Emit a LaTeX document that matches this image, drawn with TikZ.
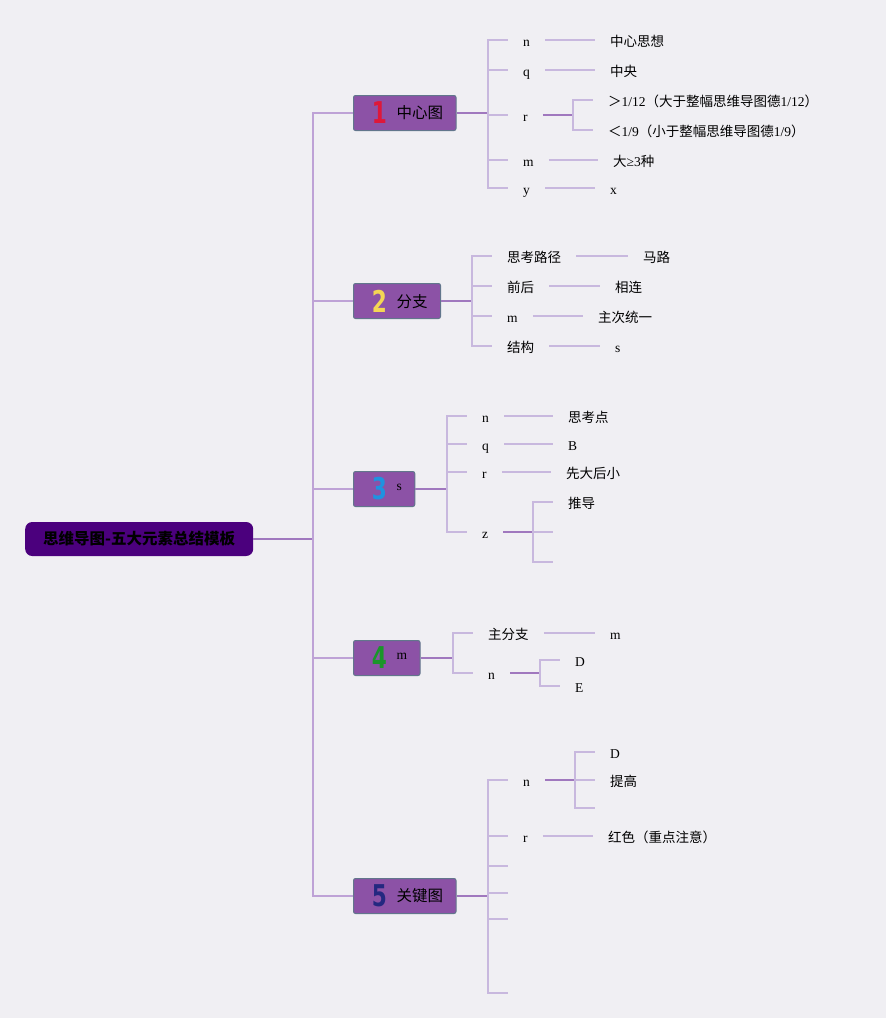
\documentclass[tikz,border=0pt]{standalone}
\usepackage{fontspec}
\usepackage{xcolor}
\usepackage{graphicx}
\usepackage{tikz}
\usetikzlibrary{positioning}
\setmainfont{Liberation Serif}
\newfontfamily\cjk{Noto Sans CJK SC}
\newfontfamily\digitfont{DejaVu Sans}
\definecolor{mmbg}{RGB}{240,239,243}
\definecolor{mmroot}{RGB}{75,0,125}
\definecolor{mmmain}{RGB}{140,82,166}
\definecolor{mmedge}{RGB}{98,118,140}
\definecolor{mmline}{RGB}{200,184,222}
\definecolor{mmdark}{RGB}{160,120,190}
\definecolor{mmtrunk}{RGB}{190,162,214}
\definecolor{numred}{RGB}{222,24,58}
\definecolor{numyellow}{RGB}{244,214,84}
\definecolor{numblue}{RGB}{32,146,224}
\definecolor{numgreen}{RGB}{26,150,42}
\definecolor{numnavy}{RGB}{36,40,128}
\tikzset{
  rootblock/.style={rectangle, fill=mmroot, text=black, minimum width=228pt,
    minimum height=34pt, rounded corners=7pt, inner sep=0pt,
    font=\cjk\bfseries\fontsize{15.5}{18}\selectfont},
  mainblock/.style={rectangle, draw=mmedge, fill=mmmain, line width=1pt,
    rounded corners=2pt, minimum height=35pt, inner xsep=13pt, inner ysep=0pt,
    font=\cjk\fontsize{15.5}{18}\selectfont, anchor=west},
  midlabel/.style={inner xsep=15pt, inner ysep=0pt, text height=15pt,
    text depth=3pt, font=\fontsize{13.5}{16}\selectfont, anchor=west},
  leaftext/.style={midlabel},
  line/.style={mmline, line width=1.5pt},
  darkline/.style={mmdark, line width=2pt},
  trunkline/.style={mmtrunk, line width=1.8pt}
}
\newcommand{\numicon}[2]{\makebox[26pt]{\scalebox{0.72}[1]{\digitfont\bfseries\fontsize{30}{30}\selectfont\color{#1}#2}}\hspace{4pt}}

\begin{document}
\begin{tikzpicture}[x=1pt, y=-1pt]
  \fill[mmbg] (0,0) rectangle (886,1018);
  \useasboundingbox (0,0) rectangle (886,1018);

  % root and trunk
  \node[rootblock, anchor=west] (root) at (25,539) {思维导图-五大元素总结模板};
  \coordinate (trunk) at (313,539);

  % main branches
  \node[mainblock] (c1) at (353,113) {\numicon{numred}{1}\raisebox{5pt}{中心图}};
  \node[mainblock] (c2) at (353,301) {\numicon{numyellow}{2}\raisebox{5pt}{分支}};
  \node[mainblock] (c3) at (353,489) {\numicon{numblue}{3}{\rmfamily\fontsize{13.5}{16}\selectfont\raisebox{9pt}{s}}};
  \node[mainblock] (c4) at (353,658) {\numicon{numgreen}{4}{\rmfamily\fontsize{13.5}{16}\selectfont\raisebox{9pt}{m}}};
  \node[mainblock] (c5) at (353,896) {\numicon{numnavy}{5}\raisebox{5pt}{关键图}};

  \draw[darkline] (root.east) -- (trunk);
  \foreach \c in {c1,c2,c3,c4,c5}
    \draw[trunkline] (trunk) |- (\c.west);

  % branch 1
  \coordinate (j1) at (488,113);
  \node[midlabel] (m1a) at (508,40) {n};
  \node[midlabel] (m1b) at (508,70) {q};
  \node[midlabel] (m1c) at (508,115) {r};
  \node[midlabel] (m1d) at (508,160) {m};
  \node[midlabel] (m1e) at (508,188) {y};
  \node[leaftext] (l1a) at (595,40) {\cjk 中心思想};
  \node[leaftext] (l1b) at (595,70) {\cjk 中央};
  \coordinate (k1) at (573,115);
  \node[leaftext] (l1c1) at (593,100) {{\cjk ＞}1/12{\cjk （大于整幅思维导图德}1/12{\cjk ）}};
  \node[leaftext] (l1c2) at (593,130) {{\cjk ＜}1/9{\cjk （小于整幅思维导图德}1/9{\cjk ）}};
  \node[leaftext] (l1d) at (598,160) {{\cjk 大}≥3{\cjk 种}};
  \node[leaftext] (l1e) at (595,188) {x};

  \draw[darkline] (c1.east) -- (j1);
  \foreach \m in {m1a,m1b,m1c,m1d,m1e}
    \draw[line] (j1) |- (\m.west);
  \draw[line] (m1a.east) -- (l1a.west);
  \draw[line] (m1b.east) -- (l1b.west);
  \draw[darkline] (m1c.east) -- (k1);
  \draw[line] (k1) |- (l1c1.west);
  \draw[line] (k1) |- (l1c2.west);
  \draw[line] (m1d.east) -- (l1d.west);
  \draw[line] (m1e.east) -- (l1e.west);

  % branch 2
  \coordinate (j2) at (472,301);
  \node[midlabel] (m2a) at (492,256) {\cjk 思考路径};
  \node[midlabel] (m2b) at (492,286) {\cjk 前后};
  \node[midlabel] (m2c) at (492,316) {m};
  \node[midlabel] (m2d) at (492,346) {\cjk 结构};
  \node[leaftext] (l2a) at (628,256) {\cjk 马路};
  \node[leaftext] (l2b) at (600,286) {\cjk 相连};
  \node[leaftext] (l2c) at (583,316) {\cjk 主次统一};
  \node[leaftext] (l2d) at (600,346) {s};

  \draw[darkline] (c2.east) -- (j2);
  \foreach \m/\l in {m2a/l2a,m2b/l2b,m2c/l2c,m2d/l2d} {
    \draw[line] (j2) |- (\m.west);
    \draw[line] (\m.east) -- (\l.west);
  }

  % branch 3
  \coordinate (j3) at (447,489);
  \node[midlabel] (m3a) at (467,416) {n};
  \node[midlabel] (m3b) at (467,444) {q};
  \node[midlabel] (m3c) at (467,472) {r};
  \node[midlabel] (m3d) at (467,532) {z};
  \node[leaftext] (l3a) at (553,416) {\cjk 思考点};
  \node[leaftext] (l3b) at (553,444) {B};
  \node[leaftext] (l3c) at (551,472) {\cjk 先大后小};
  \coordinate (k3) at (533,532);
  \node[leaftext] (l3d1) at (553,502) {\cjk 推导};
  \coordinate (l3d2) at (553,532);
  \coordinate (l3d3) at (553,562);

  \draw[darkline] (c3.east) -- (j3);
  \foreach \m/\l in {m3a/l3a,m3b/l3b,m3c/l3c} {
    \draw[line] (j3) |- (\m.west);
    \draw[line] (\m.east) -- (\l.west);
  }
  \draw[line] (j3) |- (m3d.west);
  \draw[darkline] (m3d.east) -- (k3);
  \draw[line] (k3) |- (l3d1.west);
  \draw[line] (k3) -- (l3d2);
  \draw[line] (k3) |- (l3d3);

  % branch 4
  \coordinate (j4) at (453,658);
  \node[midlabel] (m4a) at (473,633) {\cjk 主分支};
  \node[midlabel] (m4b) at (473,673) {n};
  \node[leaftext] (l4a) at (595,633) {m};
  \coordinate (k4) at (540,673);
  \node[leaftext] (l4b1) at (560,660) {D};
  \node[leaftext] (l4b2) at (560,686) {E};

  \draw[darkline] (c4.east) -- (j4);
  \draw[line] (j4) |- (m4a.west);
  \draw[line] (j4) |- (m4b.west);
  \draw[line] (m4a.east) -- (l4a.west);
  \draw[darkline] (m4b.east) -- (k4);
  \draw[line] (k4) |- (l4b1.west);
  \draw[line] (k4) |- (l4b2.west);

  % branch 5
  \coordinate (j5) at (488,896);
  \node[midlabel] (m5a) at (508,780) {n};
  \node[midlabel] (m5b) at (508,836) {r};
  \coordinate (m5c) at (508,866);
  \coordinate (m5d) at (508,893);
  \coordinate (m5e) at (508,919);
  \coordinate (m5f) at (508,993);
  \coordinate (k5) at (575,780);
  \node[leaftext] (l5a1) at (595,752) {D};
  \node[leaftext] (l5a2) at (595,780) {\cjk 提高};
  \coordinate (l5a3) at (595,808);
  \node[leaftext] (l5b) at (593,836) {\cjk 红色（重点注意）};

  \draw[darkline] (c5.east) -- (j5);
  \draw[line] (j5) |- (m5a.west);
  \draw[line] (j5) |- (m5b.west);
  \foreach \m in {m5c,m5d,m5e,m5f}
    \draw[line] (j5) |- (\m);
  \draw[darkline] (m5a.east) -- (k5);
  \draw[line] (k5) |- (l5a1.west);
  \draw[line] (k5) -- (l5a2.west);
  \draw[line] (k5) |- (l5a3);
  \draw[line] (m5b.east) -- (l5b.west);
\end{tikzpicture}
\end{document}
